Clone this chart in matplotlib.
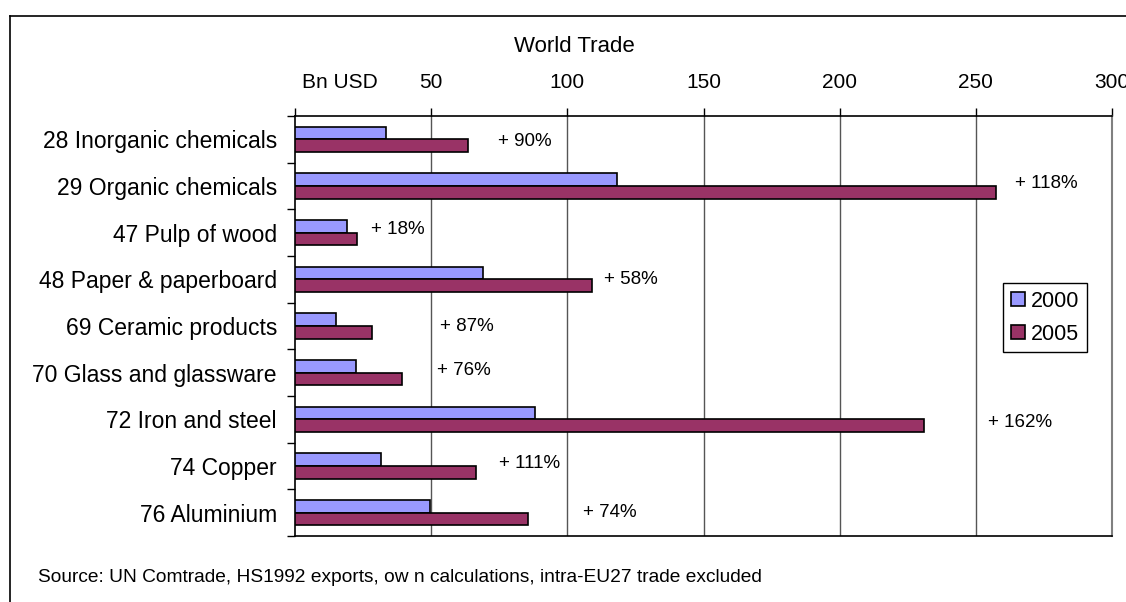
import numpy as np
import matplotlib.pyplot as plt
from matplotlib.lines import Line2D

plt.rcParams['font.family'] = ['Liberation Sans', 'DejaVu Sans']

# data (Bn USD)
categories = ['28 Inorganic chemicals', '29 Organic chemicals', '47 Pulp of wood',
              '48 Paper & paperboard', '69 Ceramic products', '70 Glass and glassware',
              '72 Iron and steel', '74 Copper', '76 Aluminium']
trade_2000 = [33.4, 118.1, 19.1, 69.2, 15.1, 22.4, 88.0, 31.4, 49.4]
trade_2005 = [63.4, 257.5, 22.6, 109.0, 28.2, 39.4, 230.9, 66.6, 85.7]
growth_labels = ['+ 90%', '+ 118%', '+ 18%', '+ 58%', '+ 87%', '+ 76%', '+ 162%', '+ 111%', '+ 74%']
xticks = [0, 50, 100, 150, 200, 250, 300]
xtick_labels = ['', '50', '100', '150', '200', '250', '300']

# where the growth labels sit (x in Bn USD, y shift from category centre)
label_x = [74.5, 264.5, 27.8, 113.6, 53.2, 52.1, 254.3, 74.8, 105.8]
label_dy = [0.04, -0.06, -0.06, 0.01, 0.02, -0.04, 0.06, -0.06, -0.01]

c2000 = '#9999FF'
c2005 = '#993366'

fig = plt.figure(figsize=(11.26, 6.02), dpi=100)
ax = fig.add_axes([295 / 1126, 66 / 602, 817 / 1126, 420 / 602])

y = np.arange(len(categories))
h = 0.27
ax.barh(y - h / 2, trade_2000, height=h, color=c2000, edgecolor='black', linewidth=1.2, label='2000', zorder=3)
ax.barh(y + h / 2, trade_2005, height=h, color=c2005, edgecolor='black', linewidth=1.2, label='2005', zorder=3)

for i, txt in enumerate(growth_labels):
    ax.text(label_x[i], y[i] + label_dy[i], txt, fontsize=13.5, va='center', ha='left')

ax.set_xlim(0, 300)
ax.set_ylim(len(categories) - 0.5, -0.5)

ax.xaxis.tick_top()
ax.set_xticks(xticks)
ax.set_xticklabels(xtick_labels)
ax.tick_params(axis='x', length=6, width=1, pad=11, labelsize=15, colors='black')
for xv in xticks[1:-1]:
    ax.axvline(xv, color='#555555', linewidth=1, zorder=1)

ax.set_yticks(y)
ax.set_yticklabels(categories)
ax.set_yticks(np.arange(len(categories) + 1) - 0.5, minor=True)
ax.tick_params(axis='y', which='major', length=0, pad=13, labelsize=16.5)
ax.tick_params(axis='y', which='minor', length=6, width=1)

for s in ['left', 'top', 'bottom']:
    ax.spines[s].set_color('black')
    ax.spines[s].set_linewidth(1.2)
ax.spines['right'].set_color('#808080')
ax.spines['right'].set_linewidth(1.5)

ax.legend(loc='upper left', bbox_to_anchor=(0.867, 0.602), fontsize=15.5,
          frameon=True, fancybox=False, edgecolor='black', framealpha=1,
          handlelength=0.65, handleheight=0.65, handletextpad=0.3,
          borderpad=0.35, labelspacing=0.55, borderaxespad=0)
ax.get_legend().get_frame().set_linewidth(1)

fig.text(302 / 1126, (602 - 82) / 602, 'Bn USD', fontsize=15, va='center', ha='left')
fig.text(574 / 1126, (602 - 46) / 602, 'World Trade', fontsize=16, va='center', ha='center')
fig.text(38 / 1126, (602 - 577) / 602, 'Source: UN Comtrade, HS1992 exports, ow n calculations, intra-EU27 trade excluded',
         fontsize=13.8, va='center', ha='left')

# outer chart frame (only left and top edges visible)
fig.add_artist(Line2D([9.5 / 1126, 9.5 / 1126], [0, (602 - 16) / 602], color='black', linewidth=1.2))
fig.add_artist(Line2D([9.5 / 1126, 1], [(602 - 16) / 602, (602 - 16) / 602], color='black', linewidth=1.2))

fig.savefig('out.png', dpi=100)
